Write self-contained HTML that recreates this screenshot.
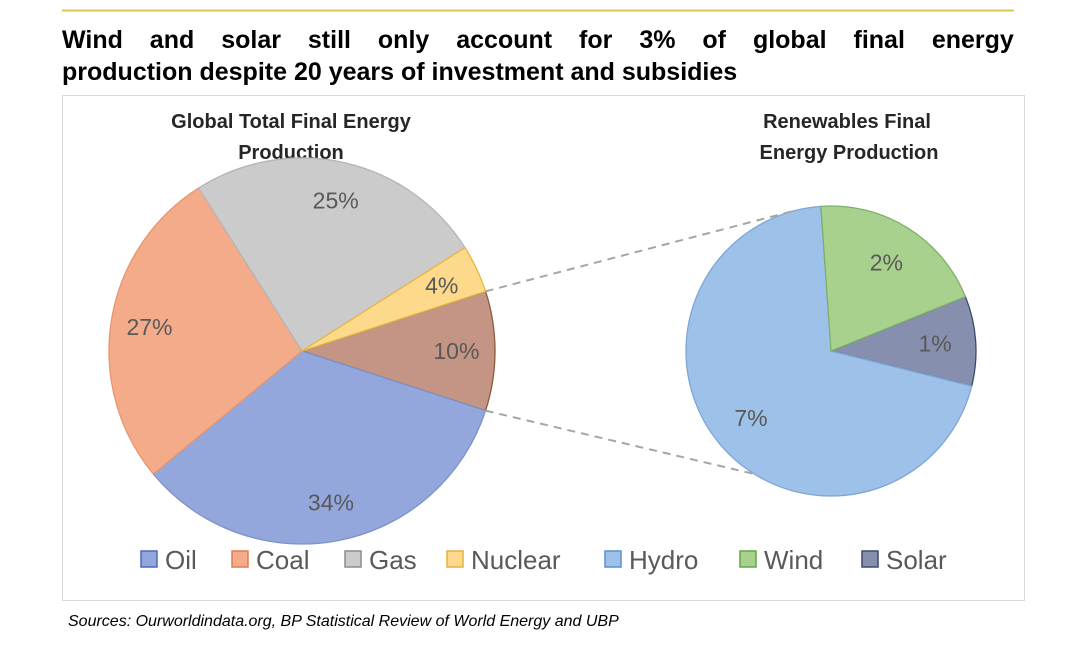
<!DOCTYPE html>
<html><head><meta charset="utf-8"><style>
body{margin:0;background:#fff;width:1080px;height:655px;overflow:hidden;font-family:"Liberation Sans",sans-serif}
</style></head><body>
<svg width="1080" height="655" viewBox="0 0 1080 655">
<line x1="62" y1="10.5" x2="1014" y2="10.5" stroke="#d9c84a" stroke-width="2"/>
<text x="62" y="48" font-size="25" font-weight="bold" fill="#000" word-spacing="20">Wind and solar still only account for 3% of global final energy</text>
<text x="62" y="80" font-size="25" font-weight="bold" fill="#000">production despite 20 years of investment and subsidies</text>
<rect x="62.5" y="95.5" width="962" height="505" fill="#fff" stroke="#d9d9d9"/>
<text x="291" y="128" font-size="20" font-weight="bold" text-anchor="middle" fill="#262626">Global Total Final Energy</text>
<text x="291" y="159" font-size="20" font-weight="bold" text-anchor="middle" fill="#262626">Production</text>
<text x="847" y="128" font-size="20" font-weight="bold" text-anchor="middle" fill="#262626">Renewables Final</text>
<text x="849" y="159" font-size="20" font-weight="bold" text-anchor="middle" fill="#262626">Energy Production</text>
<g id="left"></g><g id="right"></g><g id="conn"></g>
<g id="legend"></g>
<text x="68" y="626" font-size="16" font-style="italic" fill="#000">Sources: Ourworldindata.org, BP Statistical Review of World Energy and UBP</text>
</svg>
<script>
const mainCats=["Renewables","Oil","Coal","Gas","Nuclear"];
const mainVals=[10,34,27,25,4];
const mainColors=["#c49585","#94a7dc","#f4ab8a","#cbcbcb","#fdd98c"];
const mainStroke=["#8a5a3c","#7d92c8","#e89670","#b5b5b5","#e6b840"];
const renCats=["Solar","Hydro","Wind"];
const renVals=[1,7,2];
const renColors=["#8690ae","#9dc1e8","#a9d18e"];
const renStroke=["#3d4a6b","#7fa6d6","#7fb069"];
const legendCats=["Oil","Coal","Gas","Nuclear","Hydro","Wind","Solar"];
const legendColors=["#94a7dc","#f4ab8a","#cbcbcb","#fdd98c","#9dc1e8","#a9d18e","#8690ae"];
const legendStroke=["#4a6ab8","#e07a4f","#8c8c8c","#e6b040","#5b8fd0","#5ea846","#3d4a6b"];
const NS="http://www.w3.org/2000/svg";
function pt(cx,cy,r,a){const t=a*Math.PI/180;return [cx+r*Math.cos(t),cy+r*Math.sin(t)];}
function pie(g,vals,cats,cols,strokes,cx,cy,r,start,lf){
  const tot=vals.reduce((a,b)=>a+b,0);let a=start;const edges=[];
  vals.forEach((v,i)=>{
    const sp=v/tot*360,a2=a+sp;const p1=pt(cx,cy,r,a),p2=pt(cx,cy,r,a2);
    const path=document.createElementNS(NS,"path");
    path.setAttribute("d",`M${cx},${cy}L${p1[0]},${p1[1]}A${r},${r} 0 ${sp>180?1:0} 1 ${p2[0]},${p2[1]}Z`);
    path.setAttribute("fill",cols[i]);path.setAttribute("stroke",strokes[i]);path.setAttribute("stroke-width","1.3");
    
    
    g.appendChild(path);
    const m=pt(cx,cy,r*lf,(a+a2)/2);
    const t=document.createElementNS(NS,"text");
    t.setAttribute("x",m[0]);t.setAttribute("y",m[1]+8);t.setAttribute("text-anchor","middle");
    t.setAttribute("font-size","23");t.setAttribute("fill","#595959");t.textContent=v+"%";
    
    
    g.appendChild(t);
    edges.push([a,a2]);a=a2;
  });
  return edges;
}
const lcx=302,lcy=351,lr=193,rcx=831,rcy=351,rr=145;
const e1=pie(document.getElementById("left"),mainVals,mainCats,mainColors,mainStroke,lcx,lcy,lr,-mainVals[0]/mainVals.reduce((a,b)=>a+b,0)*180,0.8);
const e2=pie(document.getElementById("right"),renVals,renCats,renColors,renStroke,rcx,rcy,rr,-22,0.72);
const conn=document.getElementById("conn");
[[e1[0][0],256],[e1[0][1],122]].forEach((pr,i)=>{
  const p=pt(lcx,lcy,lr,pr[0]),q=pt(rcx,rcy,rr,pr[1]);
  const l=document.createElementNS(NS,"line");
  l.setAttribute("x1",p[0]);l.setAttribute("y1",p[1]);l.setAttribute("x2",q[0]);l.setAttribute("y2",q[1]);
  l.setAttribute("stroke","#a6a6a6");l.setAttribute("stroke-width","2");l.setAttribute("stroke-dasharray","8,6");
  
  
  conn.appendChild(l);
});
const lg=document.getElementById("legend");
const lx=[141,232,345,447,605,740,862];
legendCats.forEach((c,i)=>{
  const g=document.createElementNS(NS,"g");
  
  
  const r=document.createElementNS(NS,"rect");
  r.setAttribute("x",lx[i]);r.setAttribute("y",551);r.setAttribute("width",16);r.setAttribute("height",16);
  r.setAttribute("fill",legendColors[i]);r.setAttribute("stroke",legendStroke[i]);r.setAttribute("stroke-width","1.5");
  g.appendChild(r);
  const t=document.createElementNS(NS,"text");
  t.setAttribute("x",lx[i]+24);t.setAttribute("y",569);t.setAttribute("font-size","26");t.setAttribute("fill","#595959");
  t.textContent=c;g.appendChild(t);lg.appendChild(g);
});
</script>
</body></html>
